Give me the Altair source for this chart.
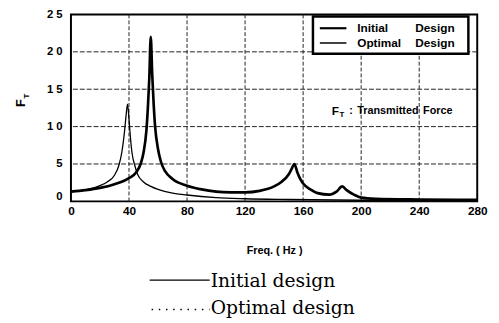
import altair as alt
import pandas as pd

# ---- data ----
init_freq = [0, 10, 20, 30, 40, 45, 48, 50, 52, 53, 54, 55, 56, 57, 58, 60, 62, 65, 70, 80, 90, 100,
             110, 120, 130, 140, 145, 150, 152, 154, 156, 158, 160, 165, 170, 178, 183, 187, 190, 195,
             200, 210, 240, 280]
init_ft = [1.3, 1.5, 1.8, 2.3, 3.1, 3.9, 5.0, 6.5, 9.5, 12.5, 16.5, 22.0, 17.0, 13.0, 10.0, 7.0, 5.3,
           4.0, 3.0, 2.1, 1.6, 1.3, 1.2, 1.2, 1.4, 2.0, 2.6, 3.6, 4.3, 5.0, 3.9, 3.0, 2.4, 1.6, 1.1,
           0.9, 1.3, 2.0, 1.5, 0.9, 0.5, 0.35, 0.25, 0.2]

opt_freq = [0, 10, 20, 25, 30, 33, 35, 37, 38, 39, 40, 41, 42, 44, 46, 50, 55, 60, 70, 80, 100, 120,
            150, 200, 280]
opt_ft = [1.3, 1.5, 2.1, 2.6, 3.5, 4.8, 6.5, 9.5, 11.5, 13.0, 11.0, 8.5, 6.6, 4.8, 3.6, 2.6, 2.0,
          1.6, 1.1, 0.85, 0.5, 0.35, 0.25, 0.15, 0.1]

series_names = ["Initial", "Optimal"]
x_ticks = [0, 40, 80, 120, 160, 200, 240, 280]
y_ticks = [0, 5, 10, 15, 20, 25]
legend_rows = ["Initial", "Optimal"]
caption_rows = ["Initial design", "Optimal design"]

df = pd.concat([
    pd.DataFrame({"freq": init_freq, "ft": init_ft, "series": series_names[0]}),
    pd.DataFrame({"freq": opt_freq, "ft": opt_ft, "series": series_names[1]}),
])

W, H = 413, 190
BOLD = "Liberation Sans"
SERIF = "DejaVu Serif"

xscale = alt.Scale(domain=[0, 280], nice=False)
yscale = alt.Scale(domain=[0, 25], nice=False)

x_axis = alt.Axis(values=x_ticks, title="Freq. ( Hz )", grid=False, ticks=False,
                  domain=False, labelFont=BOLD, labelFontWeight="bold", labelFontSize=12,
                  labelPadding=4, labelColor="black", titleFont=BOLD,
                  titleFontWeight="bold", titleFontSize=11, titlePadding=29,
                  titleColor="black", labelFlush=False)
y_axis = alt.Axis(values=y_ticks, title=None, grid=False, ticks=False, domain=False,
                  labelFont=BOLD, labelFontWeight="bold", labelFontSize=11.5,
                  labelPadding=9, labelColor="black", labelFlush=False,
                  labelBaseline={"condition": {"test": "datum.value == 0", "value": "bottom"},
                                 "value": "middle"},
                  labelExpr="datum.value >= 10 ? substring(datum.label,0,1) + ' ' + substring(datum.label,1,2) : datum.label")

# dashed grid drawn through the scales
vgrid = alt.Chart(pd.DataFrame({"freq": x_ticks[1:-1]})).mark_rule(
    color="#222", strokeWidth=1, strokeDash=[4, 2]).encode(
    x=alt.X("freq:Q", scale=xscale, axis=x_axis))
hgrid = alt.Chart(pd.DataFrame({"ft": y_ticks[1:-1]})).mark_rule(
    color="#222", strokeWidth=1, strokeDash=[5, 2]).encode(
    y=alt.Y("ft:Q", scale=yscale, axis=y_axis))

lines = alt.Chart(df).mark_line(color="black", interpolate="monotone", clip=True).encode(
    x=alt.X("freq:Q", scale=xscale, axis=x_axis),
    y=alt.Y("ft:Q", scale=yscale, axis=y_axis),
    strokeWidth=alt.StrokeWidth("series:N", scale=alt.Scale(domain=series_names, range=[2.7, 1.3]),
                                legend=None),
    detail="series:N",
)

one = pd.DataFrame({"k": [0]})


def txt(s, x, y, size=12, font=BOLD, weight="bold", align="left", angle=0, baseline="middle"):
    kw = dict(font=font, fontSize=size, align=align, baseline=baseline, color="black")
    if weight:
        kw["fontWeight"] = weight
    if angle:
        kw["angle"] = angle
    return alt.Chart(one).mark_text(**kw).encode(
        text=alt.value(s), x=alt.value(x), y=alt.value(y))


def rule(x1, x2, y, w=1.5, dash=None):
    kw = dict(color="black", strokeWidth=w)
    if dash:
        kw["strokeDash"] = dash
    return alt.Chart(one).mark_rule(**kw).encode(
        x=alt.value(x1), x2=alt.value(x2), y=alt.value(y))


# in-plot legend box (plot origin at page 72,12)
box = alt.Chart(one).mark_rect(fill="white", stroke="black", strokeWidth=2.5).encode(
    x=alt.value(246), x2=alt.value(404), y=alt.value(2), y2=alt.value(40))
leg = [
    box,
    rule(253, 280, 14, 2.2), rule(253, 280, 29, 1.5),
    txt(legend_rows[0], 291, 14), txt("Design", 350, 14),
    txt(legend_rows[1], 291, 29), txt("Design", 350, 29),
]

annot = [
    txt("F", 265, 98, 12), txt("T", 273, 102, 8),
    txt(":", 283, 98, 11), txt("Transmitted", 291, 98, 11), txt("Force", 358, 98, 11),
]

ytitle = [
    txt("F", -51, 90, 13, align="center", angle=270),
    txt("T", -45, 83, 8, align="center", angle=270),
]

caption = [
    rule(80, 141, 270, 1.2),
    txt(caption_rows[0], 142, 271, 19, font=SERIF, weight=None),
    rule(82, 141, 300, 1.6, dash=[1.5, 5.8]),
    txt(caption_rows[1], 142, 298, 19, font=SERIF, weight=None),
]

chart = alt.layer(vgrid, hgrid, lines, *leg, *annot, *ytitle, *caption).properties(
    width=W, height=H,
    autosize=alt.AutoSizeParams(type="none"),
    padding={"left": 64, "top": 4, "right": 14, "bottom": 116},
    background="white",
).configure_view(stroke="black", strokeWidth=2)

chart.save("out.html", embed_options={"renderer": "svg", "actions": False})
